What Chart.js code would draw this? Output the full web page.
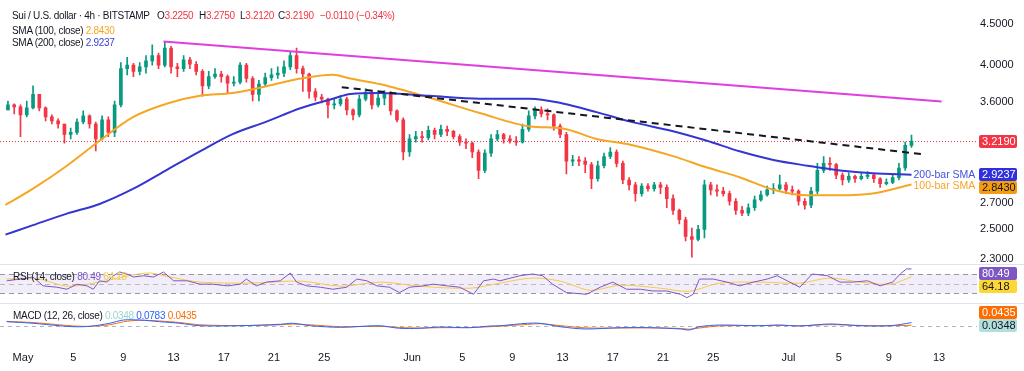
<!DOCTYPE html>
<html>
<head>
<meta charset="utf-8">
<script src="https://cdn.jsdelivr.net/npm/chart.js@4.4.1/dist/chart.umd.min.js"></script>
<style>
html, body { margin: 0; padding: 0; background: #fff; }
#wrap { position: relative; width: 1024px; height: 371px; overflow: hidden; font-family: "Liberation Sans", Arial, sans-serif; }
.pane { position: absolute; left: 0; width: 1024px; }
.sep { position: absolute; left: 0; width: 1024px; height: 1px; background: #e0e3eb; }
.lg { position: absolute; font-size: 10px; line-height: 12px; letter-spacing: -0.3px; color: #131722; white-space: nowrap; }
.red { color: #f23645; }
</style>
</head>
<body>
<div id="wrap">
  <div class="pane" style="top:0;height:272px"><canvas id="main"></canvas></div>
  <div class="pane" style="top:264px;height:39px"><canvas id="rsi"></canvas></div>
  <div class="pane" style="top:303px;height:68px"><canvas id="macd"></canvas></div>
  <div class="sep" style="top:264px"></div>
  <div class="sep" style="top:303px"></div>

  <div class="lg" style="left:12px;top:10px">Sui / U.S. dollar · 4h · BITSTAMP</div>
  <div class="lg" style="left:157px;top:10px">O<span class="red">3.2250</span></div>
  <div class="lg" style="left:199px;top:10px">H<span class="red">3.2750</span></div>
  <div class="lg" style="left:240px;top:10px">L<span class="red">3.2120</span></div>
  <div class="lg" style="left:278px;top:10px">C<span class="red">3.2190</span></div>
  <div class="lg red" style="left:320px;top:10px">−0.0110 (−0.34%)</div>
  <div class="lg" style="left:12px;top:25px">SMA (100, close) <span style="color:#f5a623">2.8430</span></div>
  <div class="lg" style="left:12px;top:37px">SMA (200, close) <span style="color:#3d3dd4">2.9237</span></div>
  <div class="lg" style="left:13px;top:271px">RSI (14, close) <span style="color:#7e57c2">80.49</span> <span style="color:#f2c94c">64.18</span></div>
  <div class="lg" style="left:13px;top:310px">MACD (12, 26, close) <span style="color:#9fd4cd">0.0348</span> <span style="color:#2962ff">0.0783</span> <span style="color:#ff6d00">0.0435</span></div>
</div>

<script>
// time axis is in days after May 1 (00:00); one candle per 12h
const firstDay = -1.2
const candleStep = 0.5

const opens = [
  3.52, 3.57, 3.55, 3.47, 3.54, 3.68, 3.54, 3.45, 3.41, 3.38,
  3.28, 3.30, 3.40, 3.46, 3.38, 3.24, 3.42, 3.30, 3.57, 3.96,
  4.00, 3.93, 3.98, 4.05, 4.11, 4.00, 4.20, 3.98, 3.96, 4.06,
  4.01, 3.93, 3.77, 3.87, 3.90, 3.87, 3.80, 3.81, 4.00, 3.85,
  3.68, 3.79, 3.86, 3.89, 3.91, 3.98, 4.11, 3.96, 3.90, 3.71,
  3.65, 3.63, 3.57, 3.58, 3.63, 3.52, 3.47, 3.63, 3.70, 3.57,
  3.64, 3.68, 3.51, 3.42, 3.12, 3.24, 3.26, 3.25, 3.32, 3.28,
  3.33, 3.31, 3.26, 3.21, 3.20, 3.12, 2.96, 3.11, 3.24, 3.28,
  3.24, 3.22, 3.21, 3.33, 3.46, 3.52, 3.48, 3.47, 3.36, 3.28,
  3.04, 3.05, 3.04, 3.01, 2.89, 3.00, 3.08, 3.12, 3.02, 2.88,
  2.84, 2.77, 2.83, 2.81, 2.84, 2.82, 2.73, 2.64, 2.57, 2.45,
  2.43, 2.50, 2.84, 2.80, 2.79, 2.77, 2.71, 2.64, 2.62, 2.66,
  2.72, 2.76, 2.80, 2.81, 2.84, 2.80, 2.79, 2.71, 2.68, 2.79,
  2.96, 3.02, 3.01, 2.92, 2.88, 2.91, 2.89, 2.91, 2.92, 2.89,
  2.85, 2.86, 2.90, 2.98, 3.18
]
const highs = [
  3.61, 3.58, 3.57, 3.61, 3.77, 3.68, 3.55, 3.47, 3.43, 3.38,
  3.34, 3.43, 3.51, 3.47, 3.40, 3.46, 3.45, 3.61, 4.03, 4.09,
  4.02, 4.03, 4.11, 4.24, 4.14, 4.28, 4.22, 4.02, 4.11, 4.09,
  4.04, 3.95, 3.93, 3.96, 3.93, 3.89, 3.87, 4.03, 4.02, 3.87,
  3.83, 3.91, 3.96, 3.98, 4.05, 4.15, 4.20, 3.99, 3.91, 3.74,
  3.68, 3.64, 3.63, 3.67, 3.65, 3.53, 3.67, 3.74, 3.72, 3.68,
  3.72, 3.71, 3.52, 3.44, 3.28, 3.31, 3.31, 3.36, 3.34, 3.37,
  3.36, 3.32, 3.28, 3.24, 3.21, 3.14, 3.14, 3.28, 3.32, 3.29,
  3.27, 3.26, 3.38, 3.51, 3.55, 3.55, 3.53, 3.48, 3.38, 3.30,
  3.09, 3.08, 3.07, 3.03, 3.04, 3.11, 3.16, 3.14, 3.04, 2.90,
  2.86, 2.85, 2.85, 2.86, 2.86, 2.84, 2.76, 2.65, 2.59, 2.51,
  2.53, 2.88, 2.86, 2.84, 2.82, 2.79, 2.73, 2.67, 2.69, 2.75,
  2.79, 2.83, 2.85, 2.92, 2.86, 2.83, 2.80, 2.73, 2.82, 3.02,
  3.08, 3.07, 3.02, 2.94, 2.94, 2.92, 2.94, 2.95, 2.93, 2.90,
  2.89, 2.92, 3.02, 3.21, 3.275
]
const lows = [
  3.52, 3.48, 3.26, 3.45, 3.53, 3.51, 3.41, 3.38, 3.34, 3.20,
  3.24, 3.28, 3.38, 3.34, 3.13, 3.23, 3.26, 3.26, 3.55, 3.89,
  3.87, 3.89, 3.91, 4.00, 3.96, 3.98, 3.91, 3.87, 3.93, 3.96,
  3.89, 3.66, 3.74, 3.85, 3.81, 3.69, 3.77, 3.79, 3.81, 3.61,
  3.61, 3.77, 3.83, 3.85, 3.87, 3.95, 3.91, 3.71, 3.64, 3.61,
  3.59, 3.44, 3.53, 3.56, 3.47, 3.42, 3.45, 3.61, 3.53, 3.55,
  3.57, 3.47, 3.40, 3.05, 3.08, 3.21, 3.21, 3.23, 3.24, 3.26,
  3.27, 3.24, 3.18, 3.15, 3.07, 2.89, 2.94, 3.08, 3.22, 3.20,
  3.20, 3.18, 3.20, 3.31, 3.43, 3.45, 3.42, 3.32, 3.25, 2.93,
  3.00, 3.00, 2.94, 2.81, 2.87, 2.98, 3.06, 2.99, 2.85, 2.80,
  2.71, 2.75, 2.79, 2.79, 2.77, 2.66, 2.61, 2.54, 2.42, 2.31,
  2.42, 2.44, 2.76, 2.75, 2.75, 2.68, 2.61, 2.60, 2.60, 2.64,
  2.71, 2.75, 2.77, 2.79, 2.77, 2.76, 2.68, 2.65, 2.66, 2.77,
  2.94, 2.96, 2.89, 2.84, 2.86, 2.86, 2.88, 2.89, 2.86, 2.82,
  2.84, 2.85, 2.88, 2.96, 3.16
]
const closes = [
  3.57, 3.55, 3.47, 3.54, 3.68, 3.54, 3.45, 3.41, 3.38, 3.28,
  3.30, 3.40, 3.46, 3.38, 3.24, 3.42, 3.30, 3.57, 3.96, 4.00,
  3.93, 3.98, 4.05, 4.11, 4.00, 4.20, 3.98, 3.96, 4.06, 4.01,
  3.93, 3.77, 3.87, 3.90, 3.87, 3.80, 3.81, 4.00, 3.85, 3.68,
  3.79, 3.86, 3.89, 3.91, 3.98, 4.11, 3.96, 3.90, 3.71, 3.65,
  3.63, 3.57, 3.58, 3.63, 3.52, 3.47, 3.63, 3.70, 3.57, 3.64,
  3.68, 3.51, 3.42, 3.12, 3.24, 3.26, 3.25, 3.32, 3.28, 3.33,
  3.31, 3.26, 3.21, 3.20, 3.12, 2.96, 3.11, 3.24, 3.28, 3.24,
  3.22, 3.21, 3.33, 3.46, 3.52, 3.48, 3.47, 3.36, 3.28, 3.04,
  3.05, 3.04, 3.01, 2.89, 3.00, 3.08, 3.12, 3.02, 2.88, 2.84,
  2.77, 2.83, 2.81, 2.84, 2.82, 2.73, 2.64, 2.57, 2.45, 2.43,
  2.50, 2.84, 2.80, 2.79, 2.77, 2.71, 2.64, 2.62, 2.66, 2.72,
  2.76, 2.80, 2.81, 2.84, 2.80, 2.79, 2.71, 2.68, 2.79, 2.96,
  3.02, 3.01, 2.92, 2.88, 2.91, 2.89, 2.91, 2.92, 2.89, 2.85,
  2.86, 2.90, 2.98, 3.18, 3.219
]

// moving averages
const smaDays = [-1.4, 0.8, 3.5, 6.1, 8.8, 11.5, 14.1, 16.7, 19.4, 22.1, 24.7, 26.1, 28.5, 32.4,
  36.4, 40.4, 43.0, 45.7, 48.4, 51.8, 54.5, 57.1, 59.8, 62.5, 65.1, 67.7, 70.8]
const sma100 = [2.681, 2.809, 3.000, 3.222, 3.450, 3.585, 3.664, 3.694, 3.766, 3.849, 3.892, 3.849, 3.787, 3.644,
  3.488, 3.357, 3.338, 3.239, 3.186, 3.083, 2.984, 2.903, 2.801, 2.756, 2.756, 2.770, 2.843]
const sma200 = [2.463, 2.531, 2.616, 2.689, 2.809, 2.967, 3.126, 3.284, 3.403, 3.536, 3.634, 3.684, 3.694, 3.664,
  3.634, 3.634, 3.585, 3.497, 3.403, 3.311, 3.222, 3.126, 3.050, 3.000, 2.959, 2.935, 2.9237]

// drawn trend lines
const resistanceDays = [11.2, 73.2]
const resistance = [4.28, 3.605]
const trendDays = [25.4, 71.7]
const trend = [3.756, 3.100]

const priceTicks = [2.3, 2.5, 2.7, 3.6, 4.0, 4.5]
const tickDays = [0, 4, 8, 12, 16, 20, 24, 31, 35, 39, 43, 47, 51, 55, 61, 65, 69, 73]
const tickLabels = ['May', '5', '9', '13', '17', '21', '25', 'Jun', '5', '9', '13', '17', '21', '25', 'Jul', '5', '9', '13']

// RSI (14) and its moving average
const rsiDays = [-1.3, -0.2, 0.8, 1.6, 2.7, 3.5, 4.3, 5.1, 5.6, 6.1, 6.7, 7.2, 7.7, 8.3, 8.8, 9.6, 10.4, 11.2, 12.0, 13.1,
  14.1, 15.1, 16.3, 17.3, 17.8, 18.6, 19.4, 20.5, 21.3, 21.8, 22.6, 23.7, 24.7, 25.8, 26.6, 27.4, 28.2, 29.2, 30.0, 30.8,
  31.9, 32.7, 33.8, 34.8, 35.9, 36.7, 37.5, 38.0, 39.6, 40.6, 41.4, 42.2, 43.3, 44.9, 46.0, 47.0, 48.1, 49.2, 50.2, 51.3,
  52.4, 52.9, 53.4, 53.9, 55.0, 56.1, 57.1, 58.2, 59.3, 60.1, 60.9, 61.9, 62.9, 64.1, 65.1, 66.1, 67.3, 68.3, 69.3, 69.9,
  70.4, 70.8]
const rsi = [55.9, 59.5, 63.7, 45.4, 42.6, 38.4, 48.9, 45.4, 38.4, 55.9, 53.2, 66.4, 74.2, 70.0, 63.7, 66.4, 63.7, 74.0, 55.9, 55.9,
  48.9, 48.9, 45.4, 48.9, 59.5, 45.4, 53.2, 55.9, 72.0, 53.2, 45.4, 42.6, 38.4, 42.6, 59.5, 55.9, 45.4, 42.6, 31.5, 42.6,
  45.4, 48.9, 45.4, 42.6, 27.9, 55.9, 59.5, 55.9, 66.4, 70.0, 66.4, 48.9, 31.5, 27.9, 42.6, 53.2, 38.4, 38.4, 34.8, 34.8,
  27.9, 21.0, 27.9, 59.5, 59.5, 53.2, 45.4, 53.2, 59.5, 66.4, 55.9, 42.6, 70.0, 66.4, 53.2, 53.2, 55.9, 45.4, 53.2, 70.0,
  80.5, 80.49]
const rsiMaDays = [-1.3, 1.3, 3.5, 6.1, 8.3, 10.1, 11.7, 14.1, 18.1, 22.1, 25.3, 28.5, 31.6, 35.6, 38.0, 40.6, 42.8, 45.2,
  47.6, 50.8, 53.1, 55.5, 58.7, 61.9, 64.3, 66.7, 69.1, 70.8]
const rsiMa = [59.5, 59.5, 44.7, 53.2, 65.8, 72.1, 63.7, 53.2, 51.1, 55.3, 44.7, 53.2, 44.7, 40.5, 51.1, 61.6, 55.3, 36.3,
  46.8, 40.5, 34.2, 51.1, 53.2, 51.1, 61.6, 53.2, 48.9, 64.18]

// MACD (12, 26)
const macdDays = [-1.3, 0.8, 2.9, 4.0, 5.3, 6.9, 8.0, 9.3, 10.9, 12.5, 14.1, 17.3, 20.5, 21.5, 22.9, 25.3, 28.4, 30.0, 31.6, 33.2,
  35.6, 37.2, 38.0, 40.2, 41.2, 42.8, 44.8, 47.6, 50.0, 52.4, 53.1, 53.9, 55.5, 58.7, 60.3, 61.9, 64.3, 66.7, 69.1, 70.8]
const macd = [0.091, 0.070, 0.038, 0.025, 0.030, 0.070, 0.113, 0.113, 0.091, 0.070, 0.038, 0.038, 0.057, 0.070, 0.038, 0.017,
  0.038, 0.004, 0.004, 0.021, 0.012, 0.034, 0.038, 0.070, 0.070, 0.025, -0.005, 0.012, 0.012, -0.005, -0.018, 0.025, 0.047,
  0.038, 0.047, 0.034, 0.061, 0.038, 0.038, 0.0783]
const signal = [0.095, 0.080, 0.050, 0.035, 0.030, 0.050, 0.090, 0.110, 0.100, 0.080, 0.050, 0.040, 0.050, 0.060, 0.050, 0.025,
  0.030, 0.015, 0.008, 0.012, 0.014, 0.025, 0.032, 0.055, 0.065, 0.040, 0.010, 0.008, 0.010, 0.002, -0.008, 0.008, 0.035,
  0.040, 0.043, 0.038, 0.052, 0.042, 0.038, 0.0435]
const histLast = 0.0348

const UP = '#089981'
const DOWN = '#f23645'
const ORANGE = '#f5a623'
const BLUE = '#3535d2'
const FONT = '"Liberation Sans", Arial, sans-serif'
const xMin = -1.833
const xMax = 76.02
const axisW = 47

const pts = (xs, ys) => xs.map((x, i) => ({ x, y: ys[i] }))
const last = a => a[a.length - 1]

const candleX = opens.map((_, i) => firstDay + i * candleStep)
const candleColors = opens.map((o, i) => closes[i] >= o ? UP : DOWN)

function drawTag(chart, text, y, bg, fg) {
  const ctx = chart.ctx
  const x = chart.chartArea.right + 2
  ctx.save()
  ctx.fillStyle = bg
  ctx.beginPath()
  ctx.roundRect(x, Math.round(y - 6.5), 38, 13, 2)
  ctx.fill()
  ctx.fillStyle = fg
  ctx.font = '11px ' + FONT
  ctx.textBaseline = 'middle'
  ctx.fillText(text, x + 3, Math.round(y - 6.5) + 7)
  ctx.restore()
}

// keep axis tags from overlapping; dir tells which way to push
function placeTags(chart, scale, tags, dir) {
  const top = chart.chartArea.top + 9
  const items = tags.map(t => ({ ...t, py: Math.max(top, scale.getPixelForValue(t.value)) }))
  if (dir === 'down') {
    items.sort((a, b) => a.py - b.py)
    for (let i = 1; i < items.length; i++) items[i].py = Math.max(items[i].py, items[i - 1].py + 13)
  } else {
    items.sort((a, b) => b.py - a.py)
    for (let i = 1; i < items.length; i++) items[i].py = Math.min(items[i].py, items[i - 1].py - 13)
  }
  items.forEach(t => drawTag(chart, t.text, t.py, t.bg, t.fg))
}

function hLine(chart, scale, value, color, dash) {
  const { ctx, chartArea: a } = chart
  const y = Math.round(scale.getPixelForValue(value)) + 0.5
  ctx.save()
  ctx.strokeStyle = color
  ctx.lineWidth = 1
  ctx.setLineDash(dash)
  ctx.beginPath()
  ctx.moveTo(a.left, y)
  ctx.lineTo(a.right, y)
  ctx.stroke()
  ctx.restore()
}

const mainExtras = {
  id: 'mainExtras',
  beforeDatasetsDraw(chart) {
    hLine(chart, chart.scales.y, last(closes), DOWN, [1, 2])
  },
  afterDatasetsDraw(chart) {
    const { ctx, scales: { x, y } } = chart
    const lx = x.getPixelForValue(last(smaDays)) + 2
    ctx.save()
    ctx.font = '10.5px ' + FONT
    ctx.textBaseline = 'middle'
    ctx.fillStyle = '#4152d8'
    ctx.fillText('200-bar SMA', lx, y.getPixelForValue(last(sma200)))
    ctx.fillStyle = ORANGE
    ctx.fillText('100-bar SMA', lx, y.getPixelForValue(last(sma100)) + 2)
    ctx.restore()
  },
  afterDraw(chart) {
    placeTags(chart, chart.scales.y, [
      { value: last(closes), text: last(closes).toFixed(4), bg: DOWN, fg: '#fff' },
      { value: last(sma200), text: last(sma200).toFixed(4), bg: '#2f2fdc', fg: '#fff' },
      { value: last(sma100), text: last(sma100).toFixed(4), bg: '#f39c12', fg: '#131722' }
    ], 'down')
  }
}

const rsiExtras = {
  id: 'rsiExtras',
  beforeDatasetsDraw(chart) {
    const { ctx, chartArea: a, scales: { y } } = chart
    const y70 = y.getPixelForValue(70)
    const y30 = y.getPixelForValue(30)
    ctx.save()
    ctx.fillStyle = 'rgba(126, 87, 194, 0.1)'
    ctx.fillRect(a.left, y70, a.right - a.left, y30 - y70)
    ctx.restore()
    hLine(chart, y, 70, '#9598a1', [5, 4])
    hLine(chart, y, 50, 'rgba(149, 152, 161, 0.6)', [5, 4])
    hLine(chart, y, 30, '#9598a1', [5, 4])
  },
  afterDraw(chart) {
    placeTags(chart, chart.scales.y, [
      { value: last(rsi), text: last(rsi).toFixed(2), bg: '#7e57c2', fg: '#fff' },
      { value: last(rsiMa), text: last(rsiMa).toFixed(2), bg: '#fdd835', fg: '#131722' }
    ], 'down')
  }
}

const macdExtras = {
  id: 'macdExtras',
  beforeDatasetsDraw(chart) {
    hLine(chart, chart.scales.y, histLast, '#b2b5be', [4, 4])
  },
  afterDraw(chart) {
    placeTags(chart, chart.scales.y, [
      { value: histLast, text: histLast.toFixed(4), bg: '#b2dfdb', fg: '#131722' },
      { value: last(signal), text: last(signal).toFixed(4), bg: '#ff6d00', fg: '#fff' }
    ], 'up')
  }
}

const base = {
  responsive: true,
  maintainAspectRatio: false,
  animation: false,
  events: [],
  plugins: { legend: { display: false }, tooltip: { enabled: false } }
}

new Chart(document.getElementById('main'), {
  type: 'bar',
  data: {
    datasets: [
      { type: 'line', data: pts(resistanceDays, resistance), borderColor: '#e03ee0', borderWidth: 2, pointRadius: 0, order: 0 },
      { type: 'line', data: pts(trendDays, trend), borderColor: '#131722', borderWidth: 2, borderDash: [7, 5], pointRadius: 0, order: 0 },
      { type: 'line', data: pts(smaDays, sma200), borderColor: BLUE, borderWidth: 2, pointRadius: 0, cubicInterpolationMode: 'monotone', order: 1 },
      { type: 'line', data: pts(smaDays, sma100), borderColor: ORANGE, borderWidth: 2, pointRadius: 0, cubicInterpolationMode: 'monotone', order: 1 },
      { data: candleX.map((x, i) => ({ x, y: [opens[i], closes[i]] })), backgroundColor: candleColors, barThickness: 3, minBarLength: 1, grouped: false, order: 2 },
      { data: candleX.map((x, i) => ({ x, y: [lows[i], highs[i]] })), backgroundColor: candleColors, barThickness: 1, grouped: false, order: 3 }
    ]
  },
  options: {
    ...base,
    layout: { padding: { bottom: 8 } },
    scales: {
      x: { type: 'linear', min: xMin, max: xMax, display: false, offset: false },
      y: {
        type: 'logarithmic', position: 'right', min: 2.275, max: 4.689, bounds: 'data',
        grid: { display: false, drawTicks: false }, border: { display: false },
        afterBuildTicks: s => { s.ticks = priceTicks.map(v => ({ value: v })) },
        afterFit: s => { s.width = axisW },
        ticks: { autoSkip: false, padding: 3, color: '#131722', font: { family: FONT, size: 11 }, callback: v => Number(v).toFixed(4) }
      }
    }
  },
  plugins: [mainExtras]
})

new Chart(document.getElementById('rsi'), {
  type: 'line',
  data: {
    datasets: [
      { data: pts(rsiDays, rsi), borderColor: '#7e57c2', borderWidth: 1, pointRadius: 0, order: 0 },
      { data: pts(rsiMaDays, rsiMa), borderColor: '#f7c948', borderWidth: 1, pointRadius: 0, tension: 0.3, order: 1 }
    ]
  },
  options: {
    ...base,
    layout: { padding: { right: axisW } },
    scales: {
      x: { type: 'linear', min: xMin, max: xMax, display: false },
      y: { min: 9.9, max: 90.7, display: false }
    }
  },
  plugins: [rsiExtras]
})

new Chart(document.getElementById('macd'), {
  type: 'line',
  data: {
    datasets: [
      { data: pts(macdDays, macd), borderColor: '#2962ff', borderWidth: 1, pointRadius: 0, tension: 0.3, order: 0 },
      { data: pts(macdDays, signal), borderColor: '#ff6d00', borderWidth: 1, pointRadius: 0, tension: 0.3, order: 1 }
    ]
  },
  options: {
    ...base,
    layout: { padding: { right: axisW } },
    scales: {
      x: {
        type: 'linear', min: xMin, max: xMax, offset: false,
        grid: { display: false, drawTicks: false }, border: { display: false },
        afterBuildTicks: s => { s.ticks = tickDays.map(v => ({ value: v })) },
        afterFit: s => { s.height = 24 },
        ticks: { autoSkip: false, maxRotation: 0, padding: 4, color: '#131722', font: { family: FONT, size: 11 },
          callback: v => tickLabels[tickDays.indexOf(v)] }
      },
      y: { min: -0.242, max: 0.337, display: false }
    }
  },
  plugins: [macdExtras]
})
</script>
</body>
</html>
